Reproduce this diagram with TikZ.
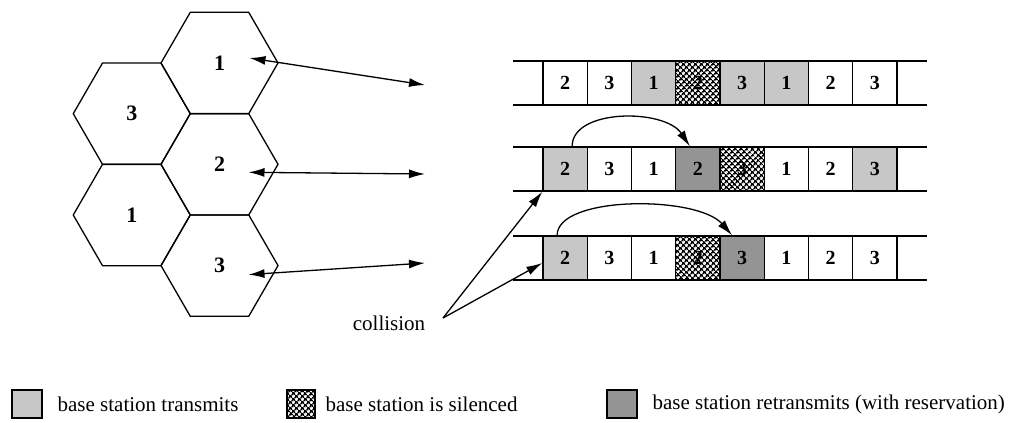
\documentclass[tikz,border=0pt]{standalone}
\usepackage{fontspec}
\setmainfont{Liberation Serif}
\usetikzlibrary{shapes.geometric,arrows.meta,patterns.meta}

\begin{document}
\begin{tikzpicture}[x=1pt,y=1pt,line width=1.3pt,
	hexcell/.style={draw,regular polygon,regular polygon sides=6,minimum size=117pt,inner sep=0pt,outer sep=0pt,font=\fontsize{22}{22}\selectfont\bfseries},
	slot/.style={draw,minimum width=44.25pt,minimum height=44pt,inner sep=0pt,font=\fontsize{20}{20}\selectfont\bfseries},
	slotfree/.style={fill=white},
	slottx/.style={fill=black!22},
	slotsil/.style={pattern={Hatch[angle=45,distance=4pt,line width=1.6pt]}},
	slotretx/.style={fill=black!42},
	tip/.style={-{Latex[length=16pt,width=9pt]}},
	dbl/.style={{Latex[length=16pt,width=9pt]}-{Latex[length=16pt,width=9pt]}},
	txt/.style={inner sep=0pt,font=\fontsize{21}{21}\selectfont}]
		\useasboundingbox (0,0) rectangle (1015,-423);
		
		% cells
		\node[hexcell] (h1) at (219.5,-63) {1};
		\node[hexcell] (h2) at (131.75,-113.7) {3};
		\node[hexcell] (h3) at (219.5,-164.3) {2};
		\node[hexcell] (h4) at (131.75,-215) {1};
		\node[hexcell] (h5) at (219.5,-265.6) {3};
		
		\coordinate (e1) at (425,-85);
		\coordinate (e2) at (425,-174);
		\coordinate (e3) at (425,-263);
		\draw[dbl] ([shift={(30,5)}]h1.center) -- (e1);
		\draw[dbl] ([shift={(29,-8)}]h3.center) -- (e2);
		\draw[dbl] ([shift={(29,-9)}]h5.center) -- (e3);
		
		% frames
		\foreach \y in {-61,-105,-147,-191,-236,-280}
			\draw (513,\y) -- (927,\y);
		\foreach \lab/\sty [count=\i] in {2/slotfree,3/slotfree,1/slottx,2/slotsil,3/slottx,1/slottx,2/slotfree,3/slotfree}
			\node[slot,\sty] (ra\i) at ({543+44.25*(\i-0.5)},-83) {\lab};
		\foreach \lab/\sty [count=\i] in {2/slottx,3/slotfree,1/slotfree,2/slotretx,3/slotsil,1/slotfree,2/slotfree,3/slottx}
			\node[slot,\sty] (rb\i) at ({543+44.25*(\i-0.5)},-169) {\lab};
		\foreach \lab/\sty [count=\i] in {2/slottx,3/slotfree,1/slotfree,2/slotsil,3/slotretx,1/slotfree,2/slotfree,3/slotfree}
			\node[slot,\sty] (rc\i) at ({543+44.25*(\i-0.5)},-258) {\lab};
		
		\draw[tip] ([xshift=7pt]rb1.north) .. controls +(0,38) and +(-25,38) .. ([xshift=-8pt]rb4.north);
		\draw[tip] ([xshift=-8pt]rc1.north) .. controls +(0,40) and +(-35,40) .. ([xshift=-10pt]rc5.north);
		
		% collision
		\node[txt] (coll) at (389,-323) {collision};
		\coordinate (cc) at (443,-318);
		\draw[tip] (cc) -- (rb1.south west);
		\draw[tip] (cc) -- ([yshift=-5pt]rc1.west);
		
		% key
		\node[slot,slottx,minimum width=30pt,minimum height=28pt] (k1) at (27,-404) {};
		\node[txt,anchor=west] (k1t) at (57,-404) {base station transmits};
		\node[slot,slotsil,minimum width=28pt,minimum height=28pt] (k2) at (301,-404) {};
		\node[txt,anchor=west] (k2t) at (325,-404) {base station is silenced};
		\node[slot,slotretx,minimum width=30pt,minimum height=28pt] (k3) at (622,-404) {};
		\node[txt,anchor=west] (k3t) at (652,-404) {base station retransmits (with reservation)};
\end{tikzpicture}
\end{document}
